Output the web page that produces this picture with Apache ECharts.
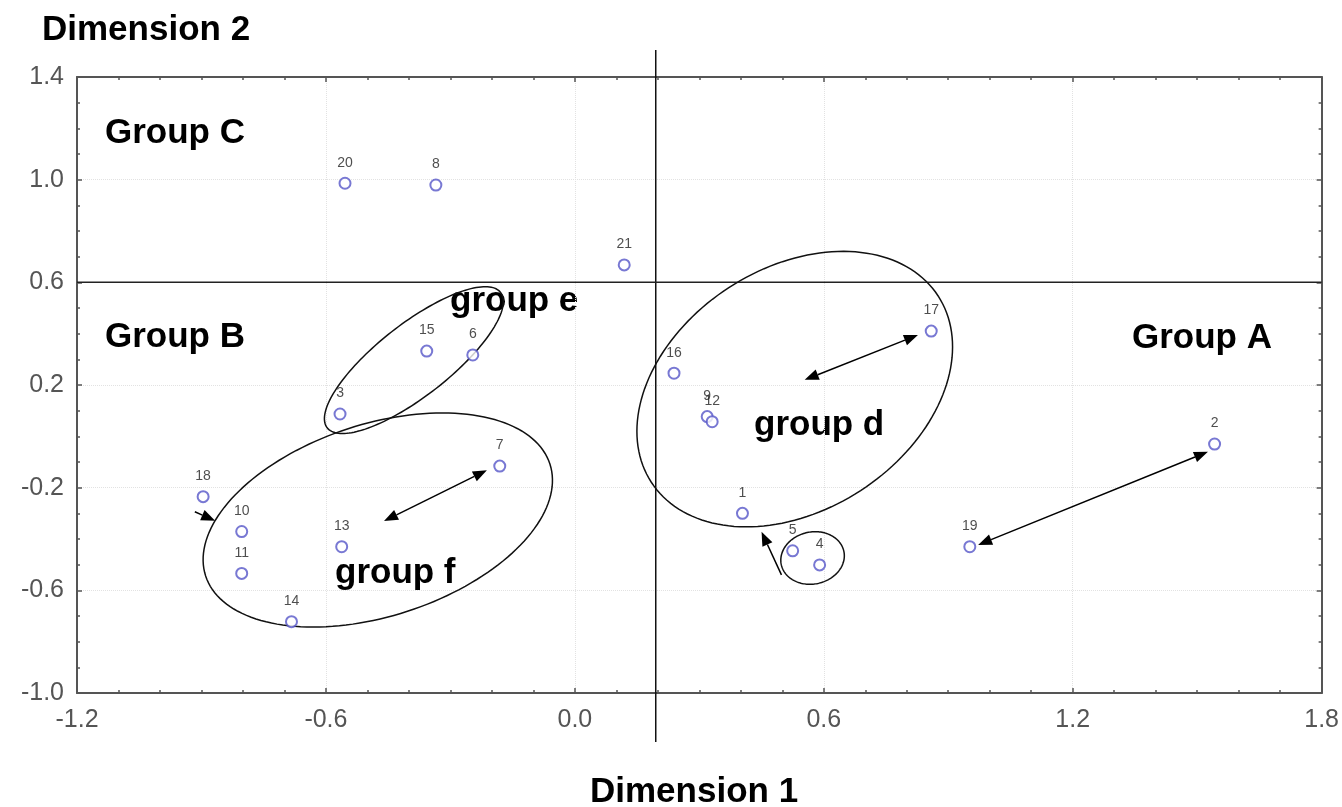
<!DOCTYPE html>
<html>
<head>
<meta charset="utf-8">
<script src="https://cdn.jsdelivr.net/npm/echarts@6/dist/echarts.min.js"></script>
<style>html,body{margin:0;padding:0;background:#fff}#c{width:1342px;height:807px}</style>
</head>
<body>
<div id="c"></div>
<script>
// ---- data ----
const pointLabels = ['1','2','3','4','5','6','7','8','9','10','11','12','13','14','15','16','17','18','19','20','21'];
const dim1 = [0.404, 1.542, -0.566, 0.590, 0.525, -0.246, -0.181, -0.335, 0.319, -0.803, -0.803, 0.331, -0.562, -0.683, -0.357, 0.239, 0.859, -0.896, 0.952, -0.554, 0.119];
const dim2 = [-0.300, -0.030, 0.087, -0.501, -0.446, 0.317, -0.116, 0.979, 0.077, -0.371, -0.534, 0.057, -0.430, -0.722, 0.332, 0.246, 0.410, -0.235, -0.430, 0.986, 0.668];
const xTickMin = -1.2, xTickMax = 1.8, xTickStep = 0.6;
const yTickMin = -1.0, yTickMax = 1.4, yTickStep = 0.4;
// reference lines (data values)
const refLineDim1 = 0.195;
const refLineDim2 = 0.6;
// annotation arrows: [x1, y1, x2, y2, doubleHeaded]
const arrowFrom1 = [-0.460, -0.916, 0.554, 0.498, 0.972];
const arrowFrom2 = [-0.330, -0.294, 0.220, -0.540, -0.423];
const arrowTo1 = [-0.212, -0.867, 0.827, 0.450, 1.526];
const arrowTo2 = [-0.132, -0.329, 0.395, -0.372, -0.060];
const arrowDouble = [1, 0, 1, 0, 1];
// annotation ellipse centres (data values)
const ellipseCx = [-0.388, -0.475, 0.530, 0.573];
const ellipseCy = [0.297, -0.326, 0.184, -0.474];

// ---- annotation shapes (pixel sizes, degrees) ----
const ellipseShape = [[110, 36, 38], [181, 96, 18], [171, 121, 33], [32, 26, 12]];

const chart = echarts.init(document.getElementById('c'));
const axisCol = '#555';
const labelFont = '"Liberation Sans", Arial, sans-serif';
const bold = 'bold 35px "Liberation Sans", Arial, sans-serif';

function baseX(pos, showLabel) {
  return {
    type: 'value', position: pos, min: xTickMin, max: xTickMax, interval: xTickStep,
    axisLine: {show: true, onZero: false, lineStyle: {color: axisCol, width: 2}},
    axisTick: {show: true, inside: true, length: 5, lineStyle: {color: axisCol, width: 1.5}},
    minorTick: {show: true, splitNumber: 6, length: 3, lineStyle: {color: axisCol, width: 1.5}},
    axisLabel: {show: showLabel, fontSize: 25, color: '#555', fontFamily: labelFont, margin: 15,
      formatter: v => v.toFixed(1)},
    splitLine: {show: showLabel, lineStyle: {color: '#e2e2e2', type: 'dotted', width: 1}}
  };
}
function baseY(pos, showLabel) {
  return {
    type: 'value', position: pos, min: yTickMin, max: yTickMax, interval: yTickStep,
    axisLine: {show: true, onZero: false, lineStyle: {color: axisCol, width: 2}},
    axisTick: {show: true, inside: true, length: 5, lineStyle: {color: axisCol, width: 1.5}},
    minorTick: {show: true, splitNumber: 4, length: 3, lineStyle: {color: axisCol, width: 1.5}},
    axisLabel: {show: showLabel, fontSize: 25, color: '#555', fontFamily: labelFont, margin: 13,
      formatter: v => v.toFixed(1)},
    splitLine: {show: showLabel, lineStyle: {color: '#e2e2e2', type: 'dotted', width: 1}}
  };
}

const points = pointLabels.map((n, i) => ({name: n, value: [dim1[i], dim2[i]]}));
const arrows = arrowFrom1.map((v, i) => [v, arrowFrom2[i], arrowTo1[i], arrowTo2[i], arrowDouble[i]]);
const ellipses = ellipseCx.map((v, i) => [v, ellipseCy[i], ellipseShape[i][0], ellipseShape[i][1], ellipseShape[i][2]]);

function head(tip, from, len, hw) {
  const dx = tip[0] - from[0], dy = tip[1] - from[1];
  const L = Math.sqrt(dx * dx + dy * dy) || 1;
  const ux = dx / L, uy = dy / L;
  const bx = tip[0] - ux * len, by = tip[1] - uy * len;
  return {pts: [[tip[0], tip[1]], [bx - uy * hw, by + ux * hw], [bx + uy * hw, by - ux * hw]], base: [bx, by]};
}

const option = {
  animation: false,
  backgroundColor: '#fff',
  grid: {left: 77, right: 20, top: 77, bottom: 114, containLabel: false},
  xAxis: [baseX('bottom', true), baseX('top', false)],
  yAxis: [baseY('left', true), baseY('right', false)],
  graphic: [
    {type: 'text', x: 42, y: 30, style: {text: 'Dimension 2', font: bold, fill: '#000', align: 'left', verticalAlign: 'middle'}},
    {type: 'text', x: 590, y: 792, style: {text: 'Dimension 1', font: bold, fill: '#000', align: 'left', verticalAlign: 'middle'}},
    {type: 'text', x: 105, y: 133, style: {text: 'Group C', font: bold, fill: '#000', align: 'left', verticalAlign: 'middle'}},
    {type: 'text', x: 105, y: 337, style: {text: 'Group B', font: bold, fill: '#000', align: 'left', verticalAlign: 'middle'}},
    {type: 'text', x: 1132, y: 338, style: {text: 'Group A', font: bold, fill: '#000', align: 'left', verticalAlign: 'middle'}},
    {type: 'text', x: 450, y: 301, style: {text: 'group e', font: bold, fill: '#000', align: 'left', verticalAlign: 'middle'}},
    {type: 'text', x: 754, y: 425, style: {text: 'group d', font: bold, fill: '#000', align: 'left', verticalAlign: 'middle'}},
    {type: 'text', x: 335, y: 573, style: {text: 'group f', font: bold, fill: '#000', align: 'left', verticalAlign: 'middle'}}
  ],
  series: [
    {
      type: 'custom', name: 'refLines', clip: false, silent: true, z: 3,
      data: [[refLineDim1, refLineDim2]],
      renderItem: function (params, api) {
        const cs = params.coordSys;
        const p = api.coord([api.value(0), api.value(1)]);
        return {type: 'group', children: [
          {type: 'line', shape: {x1: p[0], y1: cs.y - 27, x2: p[0], y2: cs.y + cs.height + 49}, style: {stroke: '#111', lineWidth: 1.5}},
          {type: 'line', shape: {x1: cs.x, y1: p[1], x2: cs.x + cs.width, y2: p[1]}, style: {stroke: '#222', lineWidth: 1.5}}
        ]};
      }
    },
    {
      type: 'custom', name: 'ellipses', clip: false, silent: true, z: 4,
      data: ellipses,
      renderItem: function (params, api) {
        const c = api.coord([api.value(0), api.value(1)]);
        const a = api.value(2), b = api.value(3), th = api.value(4) * Math.PI / 180;
        const pts = [];
        for (let i = 0; i < 160; i++) {
          const t = i / 160 * 2 * Math.PI;
          const ex = a * Math.cos(t), ey = b * Math.sin(t);
          pts.push([c[0] + ex * Math.cos(th) - ey * Math.sin(th), c[1] - (ex * Math.sin(th) + ey * Math.cos(th))]);
        }
        return {type: 'polygon', shape: {points: pts}, style: {fill: 'none', stroke: '#111', lineWidth: 1.5}};
      }
    },
    {
      type: 'custom', name: 'arrows', clip: false, silent: true, z: 4,
      data: arrows,
      renderItem: function (params, api) {
        const p1 = api.coord([api.value(0), api.value(1)]);
        const p2 = api.coord([api.value(2), api.value(3)]);
        const dbl = api.value(4) > 0;
        const h2 = head(p2, p1, 14, 5.5);
        const children = [];
        let start = p1;
        if (dbl) {
          const h1 = head(p1, p2, 14, 5.5);
          start = h1.base;
          children.push({type: 'polygon', shape: {points: h1.pts}, style: {fill: '#000'}});
        }
        children.push({type: 'line', shape: {x1: start[0], y1: start[1], x2: h2.base[0], y2: h2.base[1]}, style: {stroke: '#000', lineWidth: 1.5}});
        children.push({type: 'polygon', shape: {points: h2.pts}, style: {fill: '#000'}});
        return {type: 'group', children: children};
      }
    },
    {
      type: 'scatter', name: 'objects', z: 5,
      symbol: 'circle', symbolSize: 11,
      itemStyle: {color: '#fff', borderColor: '#5656c8', borderWidth: 2},
      label: {show: true, position: 'top', distance: 7, formatter: '{b}', fontSize: 14,
        color: '#222', fontFamily: labelFont},
      data: points
    }
  ]
};
chart.setOption(option);
</script>
</body>
</html>
